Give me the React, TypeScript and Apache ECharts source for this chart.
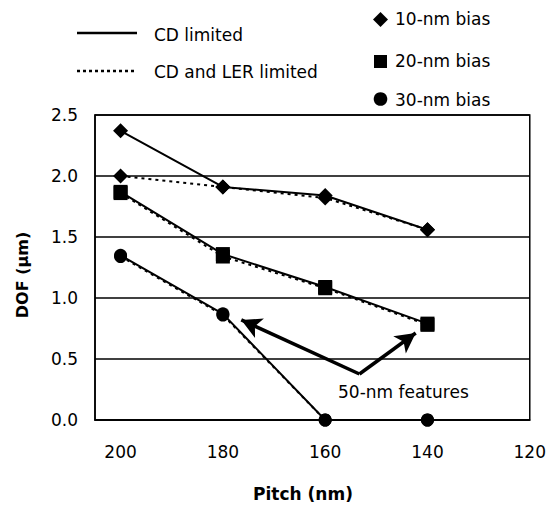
import React, { useEffect, useRef } from "react";
import * as echarts from "echarts";

const pitch = [200, 180, 160, 140];
const bias10CD = [2.37, 1.91, 1.84, 1.56];
const bias10LER = [2.0, 1.91, 1.82, 1.56];
const bias20CD = [1.87, 1.36, 1.09, 0.79];
const bias20LER = [1.86, 1.34, 1.08, 0.78];
const bias30CD = [1.35, 0.87, 0, 0];
const bias30LER = [1.34, 0.86, 0, 0];
const yTicks = [0, 0.5, 1.0, 1.5, 2.0, 2.5];
const xTicks = [200, 180, 160, 140, 120];
const arrowVertex = [153.3, 0.377];
const arrowTips = [
  [176.4, 0.82],
  [142.3, 0.713],
];

const FONT = "'DejaVu Sans', sans-serif";

const pts = (ys: number[]) => pitch.map((p, i) => [p, ys[i]]);

export default function App() {
  const ref = useRef<HTMLDivElement>(null);
  useEffect(() => {
    if (!ref.current) return;
    const chart = echarts.init(ref.current, undefined, { renderer: "svg" });
    const mk = (name: string, ys: number[], symbol: string, size: number, dotted: boolean, extra: any = {}) => ({
      type: "line",
      name,
      data: pts(ys),
      symbol,
      symbolSize: size,
      showSymbol: true,
      itemStyle: { color: "#000" },
      lineStyle: { color: "#000", width: 2, type: dotted ? [3, 4] : "solid" },
      z: dotted ? 2 : 3,
      ...extra,
    });
    const option: any = {
      animation: false,
      backgroundColor: "#fff",
      grid: {
        left: 95,
        right: 18,
        top: 115,
        bottom: 86,
        show: true,
        borderColor: "#000",
        borderWidth: 1.5,
        backgroundColor: "transparent",
      },
      xAxis: {
        type: "value",
        min: 120,
        max: 205,
        interval: 20,
        inverse: true,
        axisLine: { show: true, lineStyle: { color: "#000", width: 1.5 } },
        axisTick: { show: false },
        splitLine: { show: false },
        axisLabel: {
          margin: 23,
          color: "#000",
          fontFamily: FONT,
          fontSize: 17,
          formatter: (v: number) => (xTicks.includes(v) ? String(v) : ""),
        },
      },
      yAxis: {
        type: "value",
        min: 0,
        max: 2.5,
        interval: 0.5,
        axisLine: { show: true, lineStyle: { color: "#000", width: 1.5 } },
        axisTick: { show: false },
        splitLine: { show: true, lineStyle: { color: "#000", width: 1.5 } },
        axisLabel: {
          margin: 17,
          color: "#000",
          fontFamily: FONT,
          fontSize: 17,
          formatter: (v: number) => (yTicks.includes(v) ? v.toFixed(1) : ""),
        },
      },
      series: [
        mk("10-nm bias CD limited", bias10CD, "diamond", 15, false),
        mk("10-nm bias CD and LER limited", bias10LER, "diamond", 15, true),
        mk("20-nm bias CD limited", bias20CD, "rect", 14, false, {
          markLine: {
            silent: true,
            symbol: ["none", "arrow"],
            symbolSize: [16, 20],
            label: { show: false },
            lineStyle: { color: "#000", width: 3.5, type: "solid" },
            data: arrowTips.map((t) => [{ coord: arrowVertex }, { coord: t }]),
          },
        }),
        mk("20-nm bias CD and LER limited", bias20LER, "rect", 14, true),
        mk("30-nm bias CD limited", bias30CD, "circle", 13, false),
        mk("30-nm bias CD and LER limited", bias30LER, "circle", 13, true),
      ],
      graphic: [
        { type: "line", shape: { x1: 77, y1: 33, x2: 137, y2: 33 }, style: { stroke: "#000", lineWidth: 2.5 } },
        { type: "text", x: 154, y: 35, style: { text: "CD limited", font: `17px ${FONT}`, fill: "#000", textVerticalAlign: "middle" } },
        { type: "line", shape: { x1: 77, y1: 71, x2: 137, y2: 71 }, style: { stroke: "#000", lineWidth: 2.5, lineDash: [3, 3] } },
        { type: "text", x: 154, y: 72, style: { text: "CD and LER limited", font: `17px ${FONT}`, fill: "#000", textVerticalAlign: "middle" } },
        { type: "polygon", shape: { points: [[380.5, 12], [388, 19.5], [380.5, 27], [373, 19.5]] }, style: { fill: "#000" } },
        { type: "text", x: 395, y: 19, style: { text: "10-nm bias", font: `17px ${FONT}`, fill: "#000", textVerticalAlign: "middle" } },
        { type: "rect", shape: { x: 374, y: 55, width: 13, height: 13 }, style: { fill: "#000" } },
        { type: "text", x: 395, y: 61, style: { text: "20-nm bias", font: `17px ${FONT}`, fill: "#000", textVerticalAlign: "middle" } },
        { type: "circle", shape: { cx: 380.5, cy: 99, r: 6.8 }, style: { fill: "#000" } },
        { type: "text", x: 395, y: 100, style: { text: "30-nm bias", font: `17px ${FONT}`, fill: "#000", textVerticalAlign: "middle" } },
        { type: "text", x: 338, y: 392, style: { text: "50-nm features", font: `17px ${FONT}`, fill: "#000", textVerticalAlign: "middle" } },
        { type: "text", x: 303, y: 494, style: { text: "Pitch (nm)", font: `bold 17px ${FONT}`, fill: "#000", textAlign: "center", textVerticalAlign: "middle" } },
        { type: "text", x: 22, y: 275, rotation: Math.PI / 2, style: { text: "DOF (\u03bcm)", font: `bold 16px ${FONT}`, fill: "#000", textAlign: "center", textVerticalAlign: "middle" } },
      ],
    };
    chart.setOption(option);
    return () => chart.dispose();
  }, []);
  return <div ref={ref} style={{ width: 549, height: 506, position: "absolute", left: 0, top: 0 }} />;
}
